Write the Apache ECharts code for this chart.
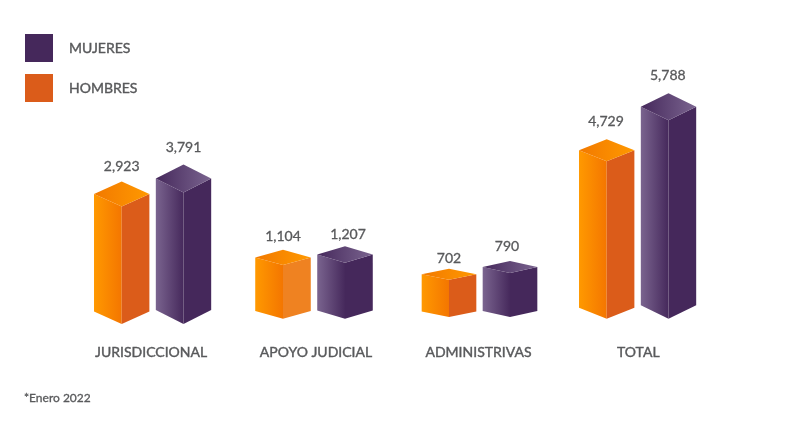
<!DOCTYPE html>
<html>
<head>
<meta charset="utf-8">
<style>
    html, body { margin: 0; padding: 0; background: #fff; }
    #container { width: 792px; height: 422px; }
</style>
<script src="https://cdn.jsdelivr.net/npm/echarts@6/dist/echarts.min.js"></script>
</head>
<body>
<div id="container"></div>
<script>
const categorias = ['JURISDICCIONAL', 'APOYO JUDICIAL', 'ADMINISTRIVAS', 'TOTAL'];
const hombres = [2923, 1104, 702, 4729];
const mujeres = [3791, 1207, 790, 5788];

// the original is not drawn to one common scale, so every group has its own hidden axis
const ejeMin = [-4421, -1302, 212, 656];
const ejeMax = [13315, 11197, 3849, 7863];

// layout of each group
const gridLeft = [90.8, 252, 418.5, 575.8];
const gridWidth = [123.6, 124, 122, 123.6];
const gridBase = [324, 318.7, 317, 318.7];
const gridTop = 40;
const rotuloY = 352;
const rotuloDx = [-1.5, 2, -1, 0.7];

// how far the cube faces drop, per bar
const caidaHombres = [12.5, 7.6, 5.5, 11];
const caidaMujeres = [14, 8.3, 6, 13.5];
// gap between the cap and the value text
const alzaHombres = [15, 13.5, 10, 17.5];
const alzaMujeres = [17.3, 12, 14.5, 18];
const corrimientoHombres = [0, 0, 0, -0.7];
const corrimientoMujeres = [0, 3, -3, -0.7];

const colorTexto = '#58595b';
const fuente = 'Lato';
// weight 600 renders as regular here, a thin outline gets closer to the original
const trazoTexto = 0.3;
const trazoRotulo = 0.4;

const estiloHombres = {
    base: '#db5c1a',
    izquierda: ['#ff9900', '#f47600'],
    tapa: ['#f27900', '#ff9900'],
    derecha: ['#db5c1a', '#ef8221', '#db5c1a', '#db5c1a']
};
const estiloMujeres = {
    base: '#45285b',
    izquierda: ['#7a648f', '#46295c'],
    tapa: ['#46295c', '#7a648f'],
    derecha: ['#45285b', '#45285b', '#45285b', '#45285b']
};

function degradado(colores) {
    return new echarts.graphic.LinearGradient(0, 0, 1, 0, [
        { offset: 0, color: colores[0] },
        { offset: 1, color: colores[1] }
    ]);
}

function dibujarBarra(grupo, estilo, caida, alza, corrimiento) {
    return function (params, api) {
        const valor = api.value(1);
        const tope = api.coord([api.value(0), valor]);
        const piso = api.coord([api.value(0), ejeMin[grupo]]);
        const mitad = api.size([1, 0])[0] * 0.448;
        const x = tope[0];
        const yTop = tope[1];
        const yBase = piso[1];

        return {
            type: 'group',
            children: [
                {
                    type: 'polygon',
                    shape: { points: [[x - mitad, yTop - caida], [x, yTop], [x, yBase], [x - mitad, yBase - caida]] },
                    style: { fill: degradado(estilo.izquierda) }
                },
                {
                    type: 'polygon',
                    shape: { points: [[x, yTop], [x + mitad, yTop - caida], [x + mitad, yBase - caida], [x, yBase]] },
                    style: { fill: estilo.derecha[grupo] }
                },
                {
                    type: 'polygon',
                    shape: { points: [[x - mitad, yTop - caida], [x, yTop - 2 * caida], [x + mitad, yTop - caida], [x, yTop]] },
                    style: { fill: degradado(estilo.tapa) }
                },
                {
                    type: 'text',
                    style: {
                        x: x + corrimiento,
                        y: yTop - 2 * caida - alza,
                        text: valor.toLocaleString('en-US'),
                        fill: colorTexto,
                        stroke: colorTexto,
                        lineWidth: trazoTexto,
                        font: '14px ' + fuente,
                        align: 'center',
                        verticalAlign: 'middle'
                    }
                }
            ]
        };
    };
}

const grids = [];
const xAxes = [];
const yAxes = [];
const series = [];

categorias.forEach(function (categoria, i) {
    grids.push({
        left: gridLeft[i],
        width: gridWidth[i],
        top: gridTop,
        height: gridBase[i] - gridTop
    });
    xAxes.push({
        gridIndex: i,
        type: 'category',
        data: ['HOMBRES', 'MUJERES'],
        axisLine: { show: false },
        axisTick: { show: false },
        axisLabel: { show: false },
        name: categoria,
        nameLocation: 'middle',
        nameGap: rotuloY - gridBase[i],
        nameTextStyle: {
            color: colorTexto,
            fontFamily: fuente,
            fontSize: 14,
            textBorderColor: colorTexto,
            textBorderWidth: trazoRotulo,
            verticalAlign: 'middle',
            padding: [0, 0, 0, rotuloDx[i] * 2]
        }
    });
    yAxes.push({
        gridIndex: i,
        type: 'value',
        show: false,
        min: ejeMin[i],
        max: ejeMax[i]
    });
    series.push({
        type: 'custom',
        name: 'HOMBRES',
        xAxisIndex: i,
        yAxisIndex: i,
        clip: false,
        itemStyle: { color: estiloHombres.base },
        renderItem: dibujarBarra(i, estiloHombres, caidaHombres[i], alzaHombres[i], corrimientoHombres[i]),
        data: [[0, hombres[i]]]
    });
    series.push({
        type: 'custom',
        name: 'MUJERES',
        xAxisIndex: i,
        yAxisIndex: i,
        clip: false,
        itemStyle: { color: estiloMujeres.base },
        renderItem: dibujarBarra(i, estiloMujeres, caidaMujeres[i], alzaMujeres[i], corrimientoMujeres[i]),
        data: [[1, mujeres[i]]]
    });
});

const option = {
    animation: false,
    backgroundColor: '#fff',
    title: {
        text: '*Enero 2022',
        left: 24,
        top: 392,
        padding: 0,
        textStyle: {
            color: colorTexto,
            fontFamily: fuente,
            fontSize: 12,
            fontWeight: 'normal',
            textBorderColor: colorTexto,
            textBorderWidth: trazoTexto
        }
    },
    legend: {
        left: 25,
        top: 34,
        padding: 0,
        orient: 'vertical',
        itemWidth: 28,
        itemHeight: 28,
        itemGap: 12,
        selectedMode: false,
        textStyle: {
            color: colorTexto,
            fontFamily: fuente,
            fontSize: 14,
            textBorderColor: colorTexto,
            textBorderWidth: trazoRotulo,
            padding: [0, 0, 0, 11]
        },
        data: [
            { name: 'MUJERES', icon: 'rect', itemStyle: { color: estiloMujeres.base } },
            { name: 'HOMBRES', icon: 'rect', itemStyle: { color: estiloHombres.base } }
        ]
    },
    grid: grids,
    xAxis: xAxes,
    yAxis: yAxes,
    series: series
};

const myChart = echarts.init(document.getElementById('container'));
myChart.setOption(option);
</script>
</body>
</html>
